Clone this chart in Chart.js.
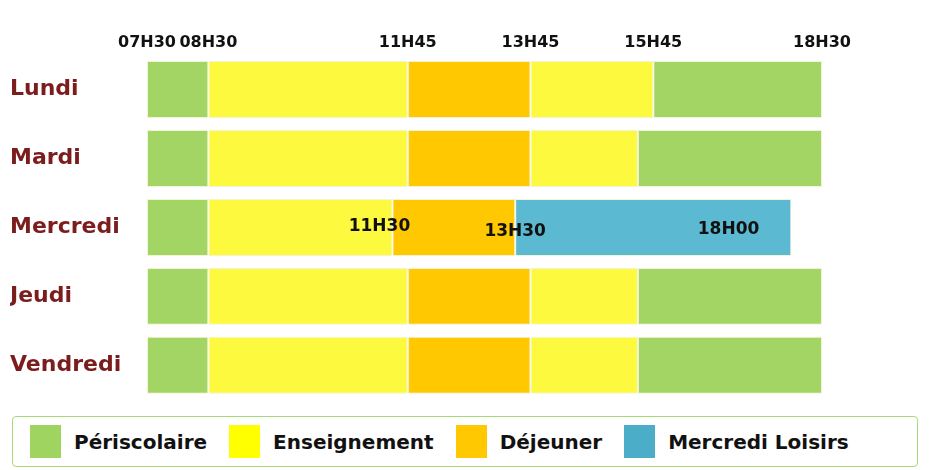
<!DOCTYPE html>
<html>
<head>
<meta charset="utf-8">
<script src="https://cdn.jsdelivr.net/npm/chart.js@4/dist/chart.umd.min.js"></script>
<style>
  html, body { margin:0; padding:0; background:#fff; width:934px; height:470px; overflow:hidden; font-family:"DejaVu Sans", sans-serif; }
  #wrap { position:absolute; left:0; top:0; width:934px; height:416px; }
  #legend { position:absolute; left:12px; top:416px; width:906px; height:51px; border:1.5px solid #a8d97a; border-radius:4px; box-sizing:border-box; display:flex; align-items:center; padding-left:17px; }
  .item { display:flex; align-items:center; margin-right:22px; font-weight:bold; font-size:20px; color:#111; }
  .sw { width:31px; height:33px; margin-right:13px; }
</style>
</head>
<body>
<div id="wrap"><canvas id="c" width="934" height="416"></canvas></div>
<div id="legend"></div>
<script>
// ---- data ----
const days = ['Lundi', 'Mardi', 'Mercredi', 'Jeudi', 'Vendredi'];
// hours as decimals: 7.5 = 07H30
const periscolaireMatin = [[7.5, 8.5], [7.5, 8.5], [7.5, 8.5], [7.5, 8.5], [7.5, 8.5]];
const enseignementMatin = [[8.5, 11.75], [8.5, 11.75], [8.5, 11.5], [8.5, 11.75], [8.5, 11.75]];
const dejeuner = [[11.75, 13.75], [11.75, 13.75], [11.5, 13.5], [11.75, 13.75], [11.75, 13.75]];
const enseignementAprem = [[13.75, 15.75], [13.75, 15.5], null, [13.75, 15.5], [13.75, 15.5]];
const periscolaireSoir = [[15.75, 18.5], [15.5, 18.5], null, [15.5, 18.5], [15.5, 18.5]];
const mercrediLoisirs = [null, null, [13.5, 18], null, null];
const timeTicks = [7.5, 8.5, 11.75, 13.75, 15.75, 18.5];
const mercrediTimes = [11.5, 13.5, 18];
const legendNames = ['Périscolaire', 'Enseignement', 'Déjeuner', 'Mercredi Loisirs'];

// ---- styles ----
const barColors = { peri: '#a2d564', ens: '#fdf93f', dej: '#ffc800', loi: '#5bb9d2' };
const legendColors = ['#9fd461', '#ffff00', '#ffc800', '#4badc7'];

function fmt(v) {
  const h = Math.floor(v + 1e-9);
  const m = Math.round((v - h) * 60);
  return String(h).padStart(2, '0') + 'H' + String(m).padStart(2, '0');
}

function ds(label, data, color) {
  return { label, data, backgroundColor: color, borderColor: '#f3f3d6', borderWidth: 1, borderSkipped: false, grouped: false, barPercentage: 1, categoryPercentage: 0.826 };
}

const mercrediPlugin = {
  id: 'mercrediLabels',
  afterDatasetsDraw(chart) {
    const ctx = chart.ctx, xs = chart.scales.x, ys = chart.scales.y;
    const yc = ys.getPixelForValue(2);
    ctx.save();
    ctx.font = 'bold 17px "DejaVu Sans"';
    ctx.fillStyle = '#111';
    ctx.textBaseline = 'middle';
    const offsets = [[-13, 'center', -1], [0, 'center', 4], [-32, 'right', 2]];
    mercrediTimes.forEach((t, i) => {
      const [dx, align, dy] = offsets[i];
      ctx.textAlign = align;
      ctx.fillText(fmt(t), xs.getPixelForValue(t) + dx, yc + dy);
    });
    ctx.restore();
  }
};

new Chart(document.getElementById('c'), {
  type: 'bar',
  data: {
    labels: days,
    datasets: [
      ds('Périscolaire', periscolaireMatin, barColors.peri),
      ds('Enseignement', enseignementMatin, barColors.ens),
      ds('Déjeuner', dejeuner, barColors.dej),
      ds('Enseignement (après-midi)', enseignementAprem, barColors.ens),
      ds('Périscolaire (soir)', periscolaireSoir, barColors.peri),
      ds('Mercredi Loisirs', mercrediLoisirs, barColors.loi)
    ]
  },
  options: {
    indexAxis: 'y',
    responsive: false,
    animation: false,
    layout: { padding: { left: 10, right: 112, top: 0, bottom: 0 } },
    plugins: { legend: { display: false }, tooltip: { enabled: false } },
    scales: {
      x: {
        position: 'top',
        min: 7.5, max: 18.5,
        grid: { display: false, drawTicks: false },
        border: { display: false },
        afterBuildTicks(scale) { scale.ticks = timeTicks.map(v => ({ value: v })); },
        afterFit(scale) { scale.height = 55; },
        ticks: { autoSkip: false, maxRotation: 0, padding: 3, color: '#111', font: { family: 'DejaVu Sans', weight: 'bold', size: 16 }, callback: v => fmt(v) }
      },
      y: {
        grid: { display: false, drawTicks: false },
        border: { display: false },
        afterFit(scale) { scale.width = 137; },
        ticks: { crossAlign: 'far', color: '#7b1d1d', font: { family: 'DejaVu Sans', weight: 'bold', size: 22 } }
      }
    }
  },
  plugins: [mercrediPlugin]
});

// HTML legend
const lg = document.getElementById('legend');
legendNames.forEach((n, i) => {
  const it = document.createElement('div'); it.className = 'item';
  const sw = document.createElement('div'); sw.className = 'sw'; sw.style.background = legendColors[i];
  const tx = document.createElement('span'); tx.textContent = n;
  it.appendChild(sw); it.appendChild(tx); lg.appendChild(it);
});
</script>
</body>
</html>
